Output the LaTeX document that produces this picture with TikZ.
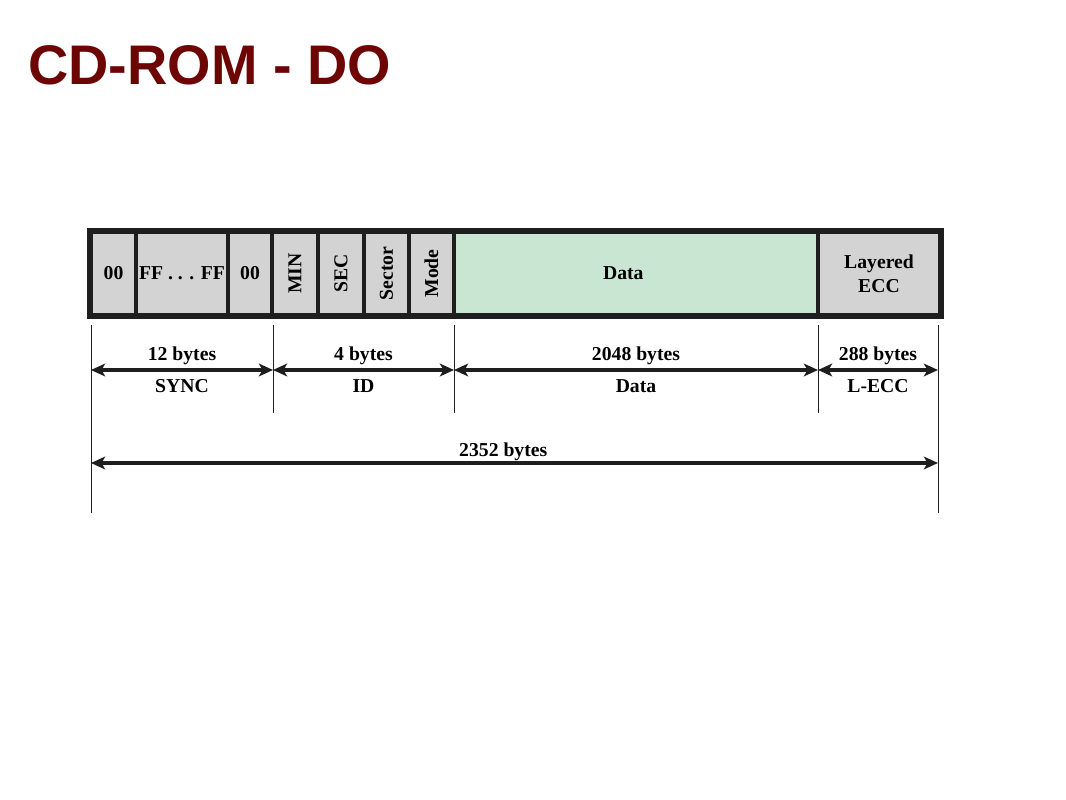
\documentclass[tikz,border=0pt]{standalone}
\usepackage{fontspec}
\usepackage{graphicx}
\setmainfont{Liberation Serif}
\setsansfont{Liberation Sans}
\usetikzlibrary{arrows.meta}
\definecolor{titlered}{RGB}{110,5,5}
\definecolor{fieldgray}{RGB}{211,211,211}
\definecolor{datagreen}{RGB}{201,230,211}
\definecolor{framegray}{RGB}{30,30,30}

\begin{document}
\begin{tikzpicture}[x=0.025cm,y=-0.025cm,
  field/.style={draw=framegray,line width=2.2pt,fill=fieldgray,inner sep=0pt,
    minimum height=2.075cm,font=\fontsize{14}{17}\selectfont\bfseries},
  dim/.style={line width=2.6pt,draw=framegray,
    {Stealth[length=10pt,width=9pt,inset=2.5pt]}-{Stealth[length=10pt,width=9pt,inset=2.5pt]}},
  dimtext/.style={font=\fontsize{14}{15}\selectfont\bfseries},
  tick/.style={line width=0.7pt,draw=framegray}]

  \useasboundingbox (0,0) rectangle (1066,800);

  \node[anchor=west,inner sep=0pt,text=titlered,
    font=\sffamily\bfseries\fontsize{39.7}{44}\selectfont] (title) at (28,65) {CD-ROM - DO};

  % sector fields
  \node[field] (sync0) at (113.5,273.5) [minimum width=1.125cm] {00};
  \node[field] (syncf) at (182,273.5) [minimum width=2.3cm] {FF . . . FF};
  \node[field] (sync00) at (250,273.5) [minimum width=1.1cm] {00};
  \node[field] (min) at (295,273.5) [minimum width=1.15cm] {\rotatebox{90}{MIN}};
  \node[field] (sec) at (341,273.5) [minimum width=1.15cm] {\rotatebox{90}{SEC}};
  \node[field] (sector) at (386.5,273.5) [minimum width=1.125cm] {\rotatebox{90}{Sector}};
  \node[field] (mode) at (431.5,273.5) [minimum width=1.125cm] {\rotatebox{90}{Mode}};
  \node[field,fill=datagreen] (data) at (636,273.5) [minimum width=9.1cm] {\hspace*{-18pt}Data};
  \node[field,align=center] (ecc) at (879,273.5) [minimum width=3.05cm] {Layered\\ECC};
  \draw[line width=3pt,draw=framegray] (sync0.north west) rectangle (ecc.south east);

  % dimension marks
  \coordinate (s0) at (91,370);
  \coordinate (s1) at (273,370);
  \coordinate (s2) at (454,370);
  \coordinate (s3) at (818,370);
  \coordinate (s4) at (938,370);
  \coordinate (t0) at (91,463);
  \coordinate (t1) at (938,463);

  \foreach \c in {s1,s2,s3}
    \draw[tick] (\c) ++(0,-45) -- ++(0,88);
  \draw[tick] (s0) ++(0,-45) -- ++(0,188);
  \draw[tick] (s4) ++(0,-45) -- ++(0,188);

  \draw[dim] (s0) -- node [dimtext,above=-1pt] {12 bytes} node [dimtext,below=2pt] {SYNC} (s1);
  \draw[dim] (s1) -- node [dimtext,above=-1pt] {4 bytes} node [dimtext,below=2pt] {ID} (s2);
  \draw[dim] (s2) -- node [dimtext,above=-1pt] {2048 bytes} node [dimtext,below=2pt] {Data} (s3);
  \draw[dim] (s3) -- node [dimtext,above=-1pt] {288 bytes} node [dimtext,below=2pt] {L-ECC} (s4);
  \draw[dim] (t0) -- node [dimtext,above=-3pt,xshift=-8pt] {2352 bytes} (t1);

\end{tikzpicture}
\end{document}
